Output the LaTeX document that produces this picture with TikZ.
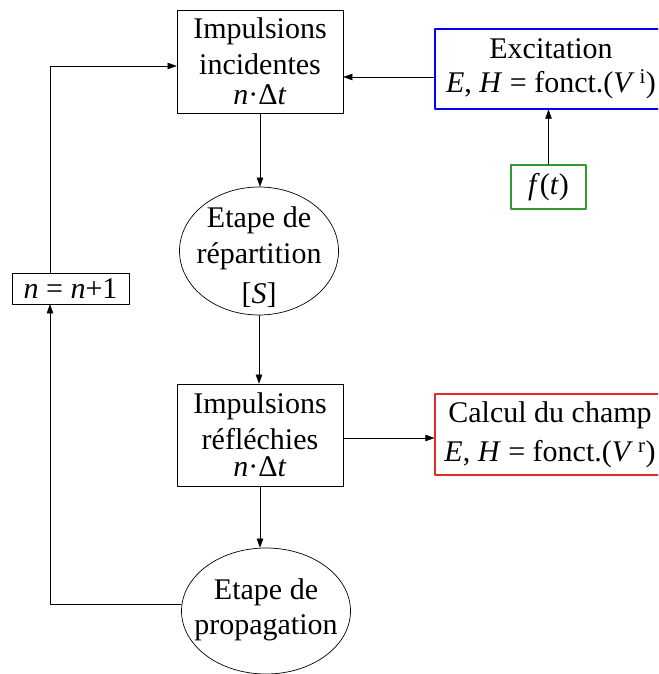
\documentclass[tikz,border=0pt]{standalone}
\usepackage{fontspec}
\setmainfont{Liberation Serif}
\usetikzlibrary{arrows.meta,shapes.geometric}
\definecolor{qqqqff}{rgb}{0,0,1}
\definecolor{ttzztt}{rgb}{0.2,0.6,0.2}
\definecolor{ewsysy}{rgb}{0.9,0.16,0.16}

\begin{document}
\begin{tikzpicture}[line cap=round,line join=round,>={Triangle[length=9pt,width=6.5pt]},x=1pt,y=-1pt,
    every node/.style={font=\fontsize{30}{36}\selectfont},
    blk/.style={draw=black,line width=0.7pt,align=center,inner sep=0pt},
    ell/.style={draw=black,line width=0.7pt,ellipse,inner sep=0pt}]
      \useasboundingbox (0,0) rectangle (658,674);
      \clip (0,0) rectangle (658,674);
      \node[blk,minimum width=166pt,minimum height=103pt] (inc) at (260,61.5) {Impulsions\\incidentes\\[-6pt]\textit{n}·Δ\textit{t}};
      \node[blk,draw=qqqqff,line width=1.2pt,minimum width=232pt,minimum height=80pt] (exc) at (551,69) {Excitation\\[-2pt]\textit{E}, \textit{H} = fonct.(\textit{V}\,\textsuperscript{i})};
      \node[blk,draw=ttzztt,line width=1.2pt,minimum width=75pt,minimum height=44pt] (ft) at (548.5,187) {\textit{f}(\textit{t})};
      \node[ell,minimum width=159pt,minimum height=128pt] (rep) at (259,251) {};
      \node[align=center] (reptxt) at (259,257) {Etape de\\répartition\\[4pt][\textit{S}]};
      \node[blk,minimum width=166pt,minimum height=102pt] (ref) at (260,435) {Impulsions\\réfléchies\\[-9pt]\textit{n}·Δ\textit{t}};
      \node[blk,draw=ewsysy,line width=1.2pt,minimum width=230pt,minimum height=81pt] (cal) at (550,434.5) {Calcul du champ\\[3pt]\textit{E}, \textit{H} = fonct.(\textit{V}\,\textsuperscript{r})};
      \node[ell,minimum width=169pt,minimum height=126pt] (prop) at (266,611) {};
      \node[align=center] (proptxt) at (266,610) {Etape de\\[-1pt]propagation};
      \node[blk,minimum width=117pt,minimum height=31pt] (nn) at (70.5,288.5) {\textit{n} = \textit{n}+1};
      \draw[->,color=black] ([yshift=-8pt]exc.west) -- ([yshift=-8pt]exc.west -| inc.east);
      \draw[->,color=black] (ft.north) -- (ft.north |- exc.south);
      \draw[->,color=black] (inc.south) -- (inc.south |- rep.north);
      \draw[->,color=black] (rep.south) -- (rep.south |- ref.north);
      \draw[->,color=black] ([yshift=-3pt]ref.east) -- ([yshift=-3pt]ref.east -| cal.west);
      \draw[->,color=black] (ref.south) -- (ref.south |- prop.north);
      \draw[->,color=black] ([yshift=7pt]prop.west) -| ([xshift=-20.5pt]nn.south);
      \draw[->,color=black] ([xshift=-20.5pt]nn.north) |- ([yshift=-4.5pt]inc.west);
\end{tikzpicture}
\end{document}
